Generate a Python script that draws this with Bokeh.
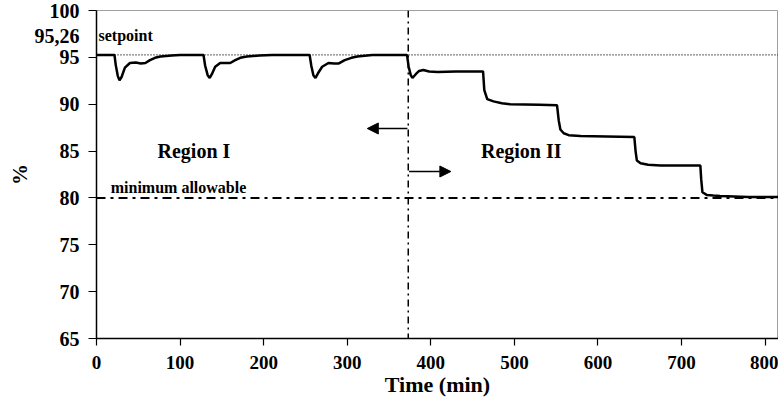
from bokeh.plotting import figure
from bokeh.models import Range1d, FixedTicker, Label, Span, Arrow, NormalHead
from bokeh.embed import file_html
from bokeh.resources import INLINE

# ---- data ----
time_min = [0, 21.5, 23, 25.5, 27.5, 30, 34, 40, 47, 53, 58.5, 64, 70, 76.5, 90, 100,
            128, 130, 133, 135.5, 138, 142, 148, 154, 160, 166, 172, 180, 195, 210,
            255, 257, 259.5, 262, 265, 270, 277.5, 284, 290, 297, 305, 312, 330,
            371.5, 373.5, 376, 378, 382, 386, 391, 398, 408, 430, 462.5,
            464, 467.5, 475, 485, 495, 530, 551,
            553, 555, 559, 565, 579, 610, 643.5,
            645, 646.5, 651, 660, 675, 722.5,
            723.5, 725, 730.5, 738, 746, 780, 816]
percent = [95.26, 95.26, 94.2, 93.0, 92.55, 92.9, 93.9, 94.4, 94.45, 94.35, 94.4, 94.7, 94.95, 95.1, 95.2, 95.26,
           95.26, 94.1, 93.1, 92.8, 93.2, 94.0, 94.4, 94.4, 94.4, 94.7, 94.95, 95.1, 95.2, 95.26,
           95.26, 94.1, 93.1, 92.8, 93.3, 94.0, 94.4, 94.35, 94.35, 94.7, 94.95, 95.1, 95.26,
           95.26, 94.0, 93.1, 92.8, 93.2, 93.55, 93.65, 93.5, 93.45, 93.5, 93.5,
           91.5, 90.55, 90.3, 90.1, 90.0, 89.95, 89.9,
           88.3, 87.3, 86.9, 86.7, 86.6, 86.55, 86.5,
           85.0, 84.0, 83.7, 83.55, 83.45, 83.45,
           82.0, 80.6, 80.3, 80.25, 80.2, 80.1, 80.1]
setpoint = 95.26
setpoint_text = "95,26"
setpoint_text_pos = 97.3
minimum_allowable = 80
region_split = 373
x_ticks = [0, 100, 200, 300, 400, 500, 600, 700, 800]
y_ticks = [65, 70, 75, 80, 85, 90, 95, 100]

FONT = "Liberation Serif"

p = figure(width=778, height=402, output_backend="svg", toolbar_location=None,
           x_range=Range1d(0, 816), y_range=Range1d(65, 100),
           min_border_left=96, min_border_right=0, min_border_top=10, min_border_bottom=64)
p.background_fill_color = "white"
p.border_fill_color = "white"
p.outline_line_color = "#a0a0a0"
p.outline_line_width = 1
p.xgrid.visible = False
p.ygrid.visible = False

for ax in (p.xaxis[0], p.yaxis[0]):
    ax.axis_line_color = "black"
    ax.axis_line_width = 1.5
    ax.major_tick_line_color = "black"
    ax.major_tick_line_width = 1.2
    ax.major_tick_in = 0
    ax.minor_tick_line_color = None
    ax.major_label_text_font = FONT
    ax.major_label_text_font_style = "bold"
    ax.major_label_text_color = "black"
    ax.axis_label_text_font = FONT
    ax.axis_label_text_font_style = "bold"
    ax.axis_label_text_color = "black"

p.xaxis.ticker = FixedTicker(ticks=x_ticks)
# y axis: labels on major ticks (incl. the "95,26" setpoint note), tick marks drawn as minor ticks
p.yaxis.ticker = FixedTicker(ticks=y_ticks + [setpoint_text_pos], minor_ticks=y_ticks)
p.yaxis.major_label_overrides = {setpoint_text_pos: setpoint_text}
p.yaxis.major_tick_line_color = None
p.yaxis.minor_tick_line_color = "black"
p.yaxis.minor_tick_line_width = 1.2
p.yaxis.minor_tick_in = 0
p.yaxis.minor_tick_out = 8
p.xaxis.major_label_text_font_size = "19px"
p.yaxis.major_label_text_font_size = "20px"
p.xaxis.major_tick_out = 7
p.yaxis.major_tick_out = 8
p.xaxis.major_label_standoff = 10
p.yaxis.major_label_standoff = 9
p.xaxis.axis_label = "Time (min)"
p.xaxis.axis_label_text_font_size = "22px"
p.xaxis.axis_label_standoff = 0
p.yaxis.axis_label = "%"
p.yaxis.axis_label_text_font_size = "21px"
p.yaxis.axis_label_standoff = 0

# reference lines
p.add_layout(Span(location=setpoint, dimension="width", line_color="black",
                  line_width=1.4, line_dash="1 2"))
p.add_layout(Span(location=minimum_allowable, dimension="width", line_color="black",
                  line_width=2, line_dash="9 5 3 5"))
p.add_layout(Span(location=region_split, dimension="height", line_color="black",
                  line_width=1.5, line_dash="7 4 2 4"))

# the curve
p.line(time_min, percent, line_color="black", line_width=2.5)

def lbl(x, y, text, size, align="left", baseline="middle"):
    p.add_layout(Label(x=x, y=y, text=text, text_font=FONT, text_font_style="bold",
                       text_font_size=size, text_color="black",
                       text_align=align, text_baseline=baseline))

lbl(2.4, 97.33, "setpoint", "16px")
lbl(17, 80.2, "minimum allowable", "16px", baseline="bottom")
lbl(73, 85.06, "Region I", "20px")
lbl(460, 85.06, "Region II", "20px")

# arrows
p.add_layout(Arrow(end=NormalHead(size=11, fill_color="black", line_color="black"),
                   x_start=372, y_start=87.41, x_end=324, y_end=87.41,
                   line_color="black", line_width=1.3))
p.add_layout(Arrow(end=NormalHead(size=11, fill_color="black", line_color="black"),
                   x_start=374, y_start=82.82, x_end=424, y_end=82.82,
                   line_color="black", line_width=1.3))

open("out.html", "w").write(file_html(p, INLINE))
